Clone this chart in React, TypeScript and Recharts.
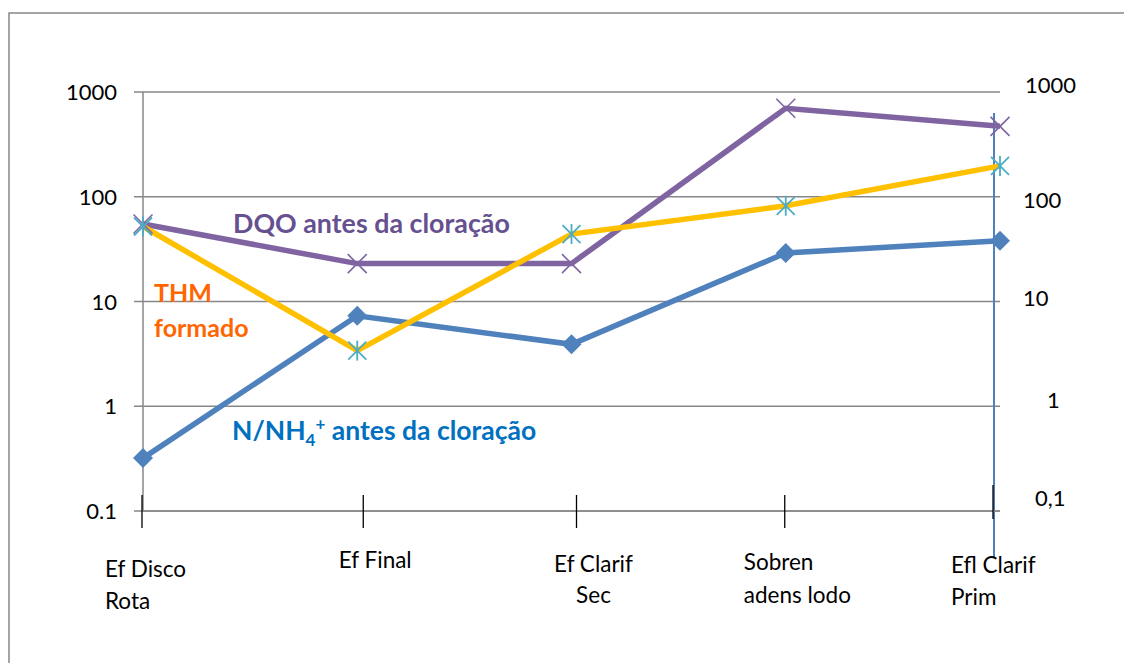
import React from 'react';
import { LineChart, Line, XAxis, YAxis, CartesianGrid, ReferenceLine, Customized } from 'recharts';

// ---- data ----
const categories = ['Ef Disco Rota', 'Ef Final', 'Ef Clarif Sec', 'Sobren adens lodo', 'Efl Clarif Prim'];
const tickLabelLines = [['Ef Disco', 'Rota'], ['Ef Final'], ['Ef Clarif', 'Sec'], ['Sobren', 'adens lodo'], ['Efl Clarif', 'Prim']];
const nh4Values = [0.32, 7.3, 3.9, 29, 38];
const dqoValues = [55, 23, 23, 700, 470];
const thmValues = [52, 3.4, 44, 82, 197];
const yTicks = [0.1, 1, 10, 100, 1000];
const leftTickLabels = ['0.1', '1', '10', '100', '1000'];
const rightTickLabels = ['0,1', '1', '10', '100', '1000'];

const data = categories.map((c, i) => ({ cat: c, nh4: nh4Values[i], dqo: dqoValues[i], thm: thmValues[i] }));

// ---- styling ----
const FONT = 'Lato, "Open Sans", sans-serif';
const GRID = '#878787';
const BLUE = '#4F81BD';
const PURPLE = '#8064A2';
const YELLOW = '#FFC000';
const CYAN = '#4BACC6';

const X_LAYOUT = [
  { anchor: 'start', lines: [{ dx: -38, dy: 66 }, { dx: -38, dy: 98 }], tickDx: -1, t1: -16, t2: 17 },
  { anchor: 'middle', lines: [{ dx: 18, dy: 57 }], tickDx: 6, t1: -16, t2: 17 },
  { anchor: 'middle', lines: [{ dx: 22, dy: 61 }, { dx: 22, dy: 92 }], tickDx: 5, t1: -16, t2: 17 },
  { anchor: 'start', lines: [{ dx: -42, dy: 59 }, { dx: -42, dy: 92 }], tickDx: -1, t1: -16, t2: 17 },
  { anchor: 'start', lines: [{ dx: -49, dy: 62 }, { dx: -49, dy: 94 }], tickDx: -7, t1: -26, t2: 8 },
];

const RIGHT_OFFSETS: Record<string, { dx: number; dy: number }> = {
  '1000': { dx: 25, dy: 1 },
  '100': { dx: 23, dy: 11 },
  '10': { dx: 23, dy: 4 },
  '1': { dx: 47, dy: 2 },
  '0.1': { dx: 35, dy: -5 },
};

const XTick = (props: any) => {
  const { x, y, index } = props;
  const lay = X_LAYOUT[index] || X_LAYOUT[0];
  const lines = tickLabelLines[index] || [];
  return (
    <g>
      <line x1={x + lay.tickDx} x2={x + lay.tickDx} y1={y + lay.t1} y2={y + lay.t2} stroke="#000" strokeWidth={1.3} />
      {lines.map((l, i) => (
        <text key={i} x={x + lay.lines[i].dx} y={y + lay.lines[i].dy} textAnchor={lay.anchor as any}
          fontFamily={FONT} fontSize={22.5} fill="#000">{l}</text>
      ))}
    </g>
  );
};

const LeftTick = (props: any) => {
  const { x, y, payload } = props;
  const idx = yTicks.indexOf(payload.value);
  return (
    <text x={x} y={y + 8} textAnchor="end" fontFamily={FONT} fontSize={22} fill="#000">
      {leftTickLabels[idx]}
    </text>
  );
};

const RightTick = (props: any) => {
  const { x, y, payload } = props;
  const idx = yTicks.indexOf(payload.value);
  const off = RIGHT_OFFSETS[String(payload.value)] || { dx: 25, dy: 8 };
  return (
    <text x={x + off.dx} y={y + off.dy} textAnchor="start" fontFamily={FONT} fontSize={22} fill="#000">
      {rightTickLabels[idx]}
    </text>
  );
};

const DiamondDot = (p: any) => {
  const { cx, cy, index } = p;
  if (cx == null || cy == null) return <g key={`d${index}`} />;
  return (
    <polygon key={`d${index}`} points={`${cx - 10},${cy} ${cx},${cy - 10} ${cx + 10},${cy} ${cx},${cy + 10}`} fill={BLUE} />
  );
};

const XDot = (p: any) => {
  const { cx, cy, index } = p;
  if (cx == null || cy == null) return <g key={`x${index}`} />;
  const s = 9.5;
  return (
    <g key={`x${index}`} stroke={PURPLE} strokeWidth={1.6}>
      <line x1={cx - s} y1={cy - s} x2={cx + s} y2={cy + s} />
      <line x1={cx - s} y1={cy + s} x2={cx + s} y2={cy - s} />
    </g>
  );
};

const StarDot = (p: any) => {
  const { cx, cy, index } = p;
  if (cx == null || cy == null) return <g key={`s${index}`} />;
  const s = 9;
  return (
    <g key={`s${index}`} stroke={CYAN} strokeWidth={1.8}>
      <line x1={cx - s} y1={cy - s} x2={cx + s} y2={cy + s} />
      <line x1={cx - s} y1={cy + s} x2={cx + s} y2={cy - s} />
      <line x1={cx} y1={cy - s - 1} x2={cx} y2={cy + s + 1} />
    </g>
  );
};

const Annotations = () => (
  <g>
    <path d="M 9 663 V 13 H 1124" fill="none" stroke={GRID} strokeWidth={1.5} />
    <text x={233} y={233} fontFamily={FONT} fontWeight={700} fontSize={26.8} fill="#66508F">DQO antes da cloração</text>
    <text x={154} y={302} fontFamily={FONT} fontWeight={700} fontSize={25} fill="#FF6600">THM</text>
    <text x={154} y={337} fontFamily={FONT} fontWeight={700} fontSize={25} fill="#FF6600">formado</text>
    <text x={232} y={440} fontFamily={FONT} fontWeight={700} fontSize={26.5} fill="#0070C0">
      N/NH
      <tspan fontSize={17} dy={6}>4</tspan>
      <tspan fontSize={17} dy={-16}>+</tspan>
      <tspan fontSize={26.5} dy={10}> antes da cloração</tspan>
    </text>
  </g>
);

export default function App() {
  return (
    <div style={{ position: 'absolute', left: 0, top: 0, width: 1124, height: 663, background: '#fff' }}>
      <LineChart width={1124} height={663} data={data} margin={{ top: 92, right: 0, bottom: 0, left: 0 }}>
        <CartesianGrid yAxisId="left" vertical={false} stroke={GRID} strokeWidth={1.5} />
        <XAxis dataKey="cat" type="category" scale="point" padding={{ left: 0, right: 0 }} height={152}
          axisLine={{ stroke: GRID, strokeWidth: 1.5 }} tickLine={false} tickSize={0} tickMargin={0}
          tick={<XTick />} interval={0} />
        <YAxis yAxisId="left" orientation="left" width={143} scale="log" type="number" domain={[0.1, 1000]}
          ticks={yTicks} allowDataOverflow interval={0}
          axisLine={{ stroke: GRID, strokeWidth: 1.5 }} tickLine={{ stroke: GRID, strokeWidth: 1.5 }}
          tickSize={9} tickMargin={17} tick={<LeftTick />} />
        <YAxis yAxisId="right" orientation="right" width={124} scale="log" type="number" domain={[0.1, 1000]}
          ticks={yTicks} allowDataOverflow interval={0} axisLine={false} tickLine={false}
          tickSize={0} tickMargin={0} tick={<RightTick />} />
        <ReferenceLine yAxisId="left" x="Efl Clarif Prim" ifOverflow="visible"
          shape={(p: any) => {
            const x = (p.x1 ?? 1000) - 6;
            const top = Math.min(p.y1, p.y2);
            const bot = Math.max(p.y1, p.y2);
            return <line x1={x} x2={x} y1={top + 21} y2={bot + 46} stroke={BLUE} strokeWidth={2} />;
          }} />
        <Line yAxisId="left" type="linear" dataKey="nh4" stroke={BLUE} strokeWidth={5.5} dot={DiamondDot}
          activeDot={false} isAnimationActive={false} />
        <Line yAxisId="left" type="linear" dataKey="dqo" stroke={PURPLE} strokeWidth={5.5} dot={XDot}
          activeDot={false} isAnimationActive={false} />
        <Line yAxisId="left" type="linear" dataKey="thm" stroke={YELLOW} strokeWidth={5.5} dot={StarDot}
          activeDot={false} isAnimationActive={false} />
        <Customized component={Annotations} />
      </LineChart>
    </div>
  );
}
